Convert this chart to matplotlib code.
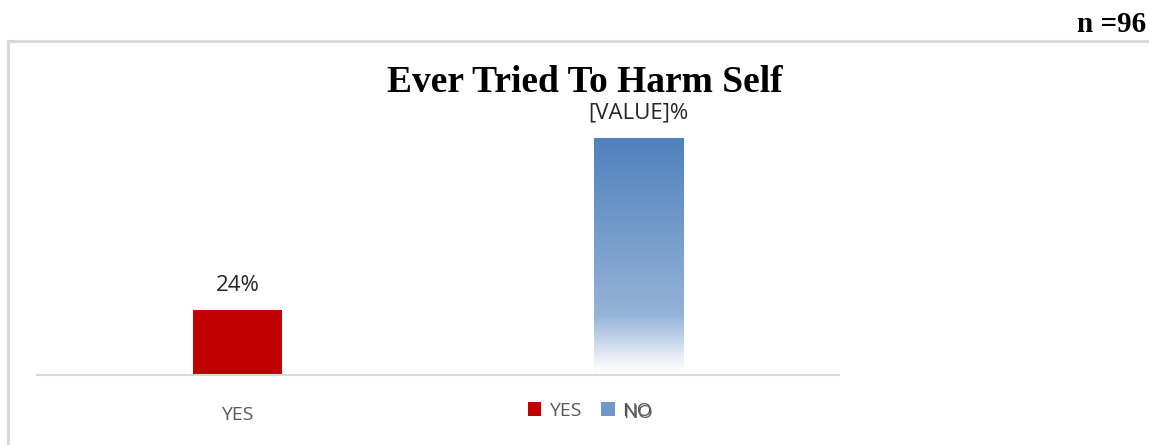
import matplotlib
matplotlib.use("Agg")
import matplotlib.pyplot as plt
import numpy as np
from matplotlib.colors import LinearSegmentedColormap
from matplotlib.lines import Line2D
from matplotlib.patches import Patch

categories = ["YES", "NO"]
values = [24, 87.5]
value_labels = ["24%", "[VALUE]%"]
title = "Ever Tried To Harm Self"
note = "n =96"

W, H = 1149, 445
fig = plt.figure(figsize=(W / 100, H / 100), dpi=100)

def px(x0, y0, x1, y1):
    return [x0 / W, 1 - y1 / H, (x1 - x0) / W, (y1 - y0) / H]

# outer frame lines (top and left)
fig.add_artist(Line2D([8 / W, 1.0], [1 - 41 / H, 1 - 41 / H], color="#d9d9d9", lw=2.2, transform=fig.transFigure))
fig.add_artist(Line2D([8 / W, 8 / W], [1 - 41 / H, 0], color="#d9d9d9", lw=2.2, transform=fig.transFigure))

ax = fig.add_axes(px(37, 104, 839, 375))
ax.set_xlim(-0.5, 1.5)
ax.set_ylim(0, 100)
for s in ["top", "right", "left"]:
    ax.spines[s].set_visible(False)
ax.spines["bottom"].set_color("#d9d9d9")
ax.spines["bottom"].set_linewidth(1.5)
ax.set_yticks([])
ax.set_xticks([])

xs = np.arange(len(categories))
bars = ax.bar(xs, values, width=0.222, color=["#c00000", "none"], edgecolor="none", zorder=2)

# gradient fill for NO bar
cmap = LinearSegmentedColormap.from_list(
    "g", [(0.0, "#ffffff"), (0.06, "#eef2f8"), (0.25, "#95b3d7"), (1.0, "#4f81bd")])
b = bars[1]
grad = np.linspace(0, 1, 256).reshape(-1, 1)
im = ax.imshow(grad, cmap=cmap, aspect="auto", origin="lower",
               extent=[b.get_x(), b.get_x() + b.get_width(), 0, b.get_height()], zorder=2)
im.set_clip_path(b)

font_sans = ["Open Sans", "DejaVu Sans"]
for x, v, lab in zip(xs, values, value_labels):
    ax.annotate(lab, (x, v), xytext=(0, 10), textcoords="offset points", ha="center", va="bottom",
                fontsize=16, color="#262626", family=font_sans)

# category labels
for x, c, dy in zip(xs, categories, [415, 413]):
    fig.text((37 + (x + 0.5) / 2 * 802) / W, 1 - dy / H, c, ha="center", va="center",
             fontsize=14, color="#595959", family=font_sans)

fig.text(585 / W, 1 - 82 / H, title, ha="center", va="center", fontsize=27,
         fontweight="bold", family=["Liberation Serif"], color="black")
fig.text(1146 / W, 1 - 24 / H, note, ha="right", va="center", fontsize=21,
         fontweight="bold", family=["Liberation Serif"], color="black")

handles = [Patch(facecolor="#c00000"), Patch(facecolor="#6f97c9")]
fig.legend(handles, categories, loc="center", bbox_to_anchor=(590 / W, 1 - 411 / H), ncol=2,
           frameon=False, handlelength=0.7, handleheight=0.7, handletextpad=0.4,
           columnspacing=1.0, prop={"family": font_sans, "size": 14},
           labelcolor="#595959")

fig.savefig("out.png", dpi=100)
